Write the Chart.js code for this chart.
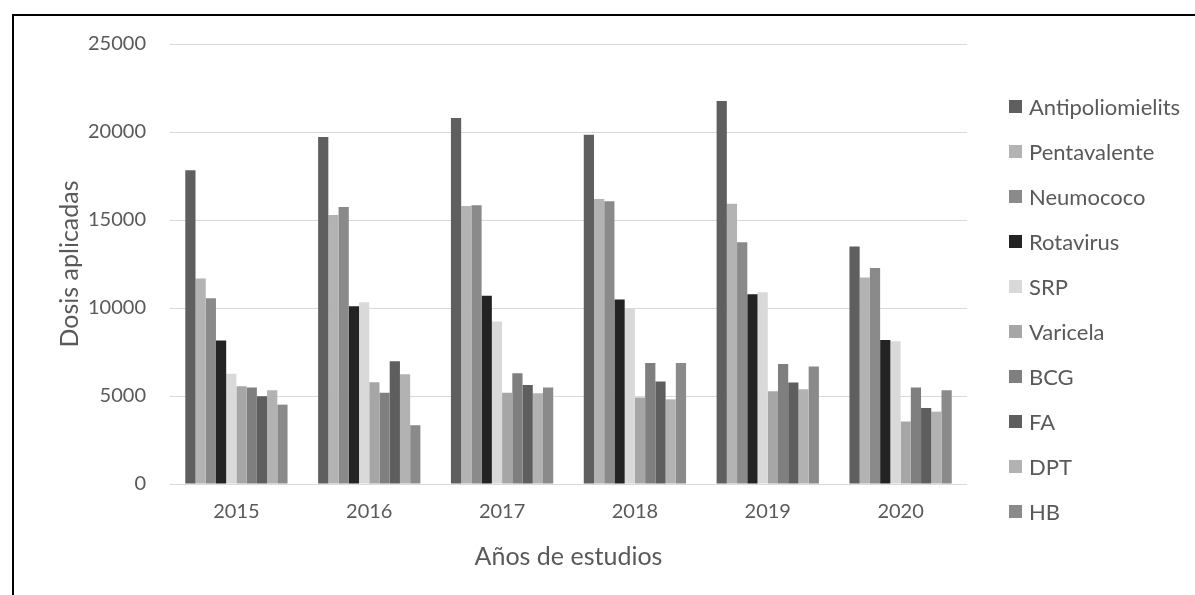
<!DOCTYPE html>
<html>
<head>
<meta charset="utf-8">
<script src="https://cdn.jsdelivr.net/npm/chart.js@4"></script>
<style>
  body { margin: 0; background: #fff; font-family: Lato, "Open Sans", sans-serif; }
  #wrap { position: relative; width: 1195px; height: 595px; overflow: hidden; }
  #frame { position: absolute; left: 12px; top: 14px; width: 1400px; height: 800px; border-left: 2px solid #000; border-top: 2px solid #000; }
  #chart { position: absolute; left: 0; top: 0; }
  #legend { position: absolute; left: 1009px; top: 84px; margin: 0; padding: 0; list-style: none; }
  #legend li { height: 45px; display: flex; align-items: center; font-size: 22px; color: #595959; }
  #legend span { display: inline-block; width: 13px; height: 13px; margin-right: 7px; }
</style>
</head>
<body>
<div id="wrap">
  <div id="frame"></div>
  <canvas id="chart" width="1195" height="595"></canvas>
  <ul id="legend"></ul>
</div>
<script>
const years = ['2015', '2016', '2017', '2018', '2019', '2020'];

const antipoliomielits = [17820, 19720, 20800, 19850, 21760, 13490];
const pentavalente = [11670, 15280, 15800, 16190, 15930, 11740];
const neumococo = [10550, 15740, 15840, 16060, 13730, 12270];
const rotavirus = [8160, 10100, 10700, 10480, 10780, 8180];
const srp = [6270, 10320, 9230, 9960, 10890, 8110];
const varicela = [5550, 5780, 5190, 4910, 5270, 3550];
const bcg = [5480, 5190, 6290, 6880, 6820, 5490];
const fa = [4980, 6970, 5630, 5820, 5760, 4320];
const dpt = [5320, 6230, 5150, 4810, 5380, 4110];
const hb = [4510, 3340, 5490, 6880, 6670, 5320];

const yMax = 25000;
const yStep = 5000;

const textColor = '#595959';

function serie(label, data, color) {
  return { label: label, data: data, backgroundColor: color, borderWidth: 0 };
}

const ctx = document.getElementById('chart').getContext('2d');
const dosisChart = new Chart(ctx, {
  type: 'bar',
  data: {
    labels: years,
    datasets: [
      serie('Antipoliomielits', antipoliomielits, '#5f5f5f'),
      serie('Pentavalente', pentavalente, '#b3b3b3'),
      serie('Neumococo', neumococo, '#8a8a8a'),
      serie('Rotavirus', rotavirus, '#232323'),
      serie('SRP', srp, '#d9d9d9'),
      serie('Varicela', varicela, '#a6a6a6'),
      serie('BCG', bcg, '#7f7f7f'),
      serie('FA', fa, '#5e5e5e'),
      serie('DPT', dpt, '#b2b2b2'),
      serie('HB', hb, '#8a8a8a')
    ]
  },
  options: {
    responsive: false,
    animation: false,
    categoryPercentage: 0.77,
    barPercentage: 1.0,
    layout: { padding: { left: 0, right: 228, top: 44, bottom: 0 } },
    plugins: {
      legend: { display: false },
      tooltip: { enabled: false }
    },
    scales: {
      x: {
        grid: { display: false, drawTicks: false },
        border: { display: false },
        ticks: { color: textColor, font: { family: 'Lato', size: 20 }, padding: 16 },
        title: {
          display: true,
          text: 'Años de estudios',
          color: textColor,
          font: { family: 'Lato', size: 25 },
          padding: { top: 0, bottom: 23 }
        },
        afterFit: function (scale) { scale.height = 111; }
      },
      y: {
        min: 0,
        max: yMax,
        grid: { color: '#d9d9d9', lineWidth: 1, drawTicks: false },
        border: { display: false },
        ticks: {
          stepSize: yStep,
          color: textColor,
          font: { family: 'Lato', size: 20 },
          padding: 24,
          callback: function (value) { return String(value); }
        },
        title: {
          display: true,
          text: 'Dosis aplicadas',
          color: textColor,
          font: { family: 'Lato', size: 25 },
          padding: { top: 55, bottom: 0 }
        },
        afterFit: function (scale) { scale.width = 170; }
      }
    }
  }
});

// legend as html list, built from the chart's own legend items
let legend = document.getElementById('legend');
let items = dosisChart.options.plugins.legend.labels.generateLabels(dosisChart);
items.forEach(function (item) {
  let li = document.createElement('li');
  let box = document.createElement('span');
  box.style.background = item.fillStyle;
  li.appendChild(box);
  li.appendChild(document.createTextNode(item.text));
  legend.appendChild(li);
});
</script>
</body>
</html>
